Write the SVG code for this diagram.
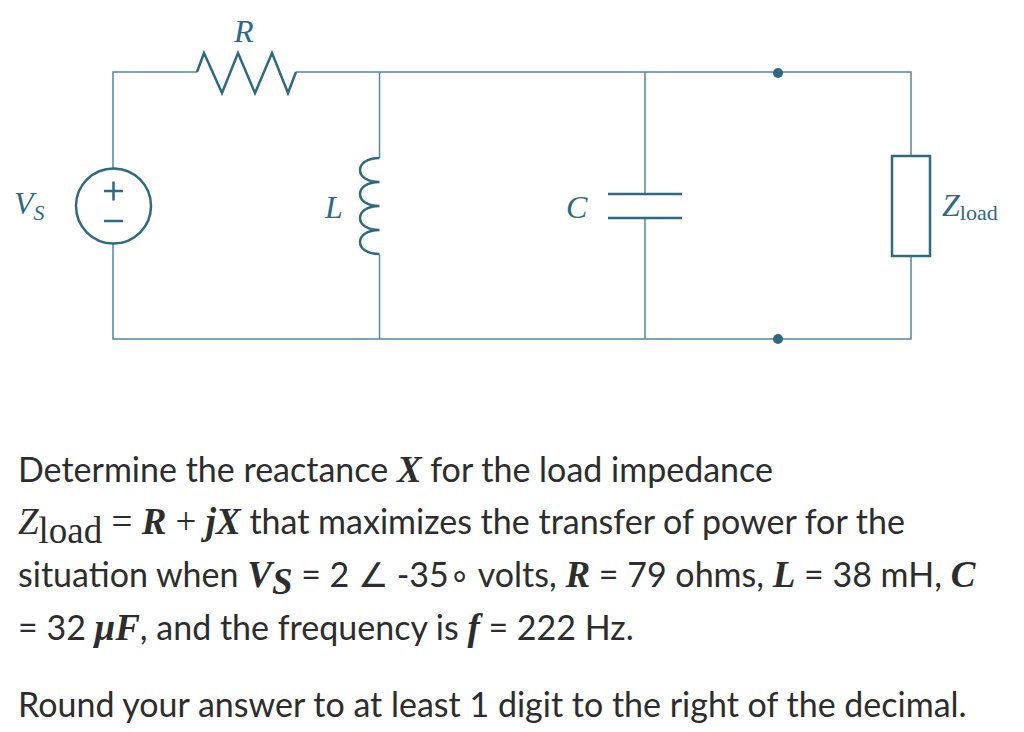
<svg xmlns="http://www.w3.org/2000/svg" width="1024" height="732" viewBox="0 0 1024 732">
<style>
.w{fill:none;stroke:#4f8a9e;stroke-width:1.5}
.c{fill:none;stroke:#2e6a80;stroke-width:2.5}
.lb{font-family:"Liberation Serif",serif;font-style:italic;font-size:32px;fill:#2e6a80}
.sub{font-family:"Liberation Serif",serif;font-size:22px;fill:#2e6a80}
.t{font-family:Lato,"Liberation Sans",sans-serif;font-size:34px;fill:#2d2d2d}
.m{font-family:"Liberation Serif",serif;font-style:italic;font-weight:bold;font-size:37px}
.mr{font-family:"Liberation Serif",serif;font-size:37px}
</style>
<rect width="1024" height="732" fill="#fff"/>
<g id="wires">
<path class="w" d="M113,168 V72 H197 M296,72 H911 V156 M911,256 V339 H113 V244 M379.5,72 V158 M379.5,255 V339 M645,72 V194 M645,218 V339"/>
</g>
<g id="R"><path class="c" d="M197,72 L204,53 L222,93 L238,53 L255,93 L272,53 L288,93 L296,72"/><text class="lb" x="234" y="42">R</text></g>
<g id="Vs"><circle class="c" cx="113.5" cy="206" r="37.5"/><path class="c" d="M104,191 h19 M113.5,181.5 v19 M104,221 h19" stroke-width="1.8"/><text class="lb" x="14" y="214">V<tspan class="sub" font-style="italic" dy="6">S</tspan></text></g>
<g id="L"><path class="c" d="M379.5,158 c-26,0 -26,24 0,24 c-26,0 -26,24 0,24 c-26,0 -26,24 0,24 c-26,0 -26,24 0,24"/><text class="lb" x="325" y="218">L</text></g>
<g id="C"><path class="c" d="M608,194 H682 M608,218 H682"/><text class="lb" x="566" y="218">C</text></g>
<g id="load"><rect class="c" x="892" y="156" width="38" height="100"/><text class="lb" x="942" y="216">Z<tspan class="sub" font-style="normal" dy="4">load</tspan></text></g>
<g id="dots" fill="#2e6a80"><circle cx="778" cy="73" r="5"/><circle cx="778" cy="339" r="5"/></g>
<g id="text">
<text class="t" x="18" y="482">Determine the reactance <tspan class="m">X</tspan> for the load impedance</text>
<text class="t" x="18" y="534"><tspan class="mr" font-style="italic">Z</tspan><tspan class="mr" dy="9">load</tspan><tspan class="mr" dy="-9">  =  </tspan><tspan class="m">R</tspan><tspan class="mr"> + </tspan><tspan class="m">jX</tspan> that maximizes the transfer of power for the</text>
<text class="t" x="18" y="587">situation when <tspan class="m">V</tspan><tspan class="m" font-size="24" dy="7">S</tspan><tspan dy="-7"> = 2 ∠ -35∘ volts, </tspan><tspan class="m">R</tspan> = 79 ohms, <tspan class="m">L</tspan> = 38 mH, <tspan class="m">C</tspan></text>
<text class="t" x="18" y="640">= 32 <tspan class="m">μF</tspan>, and the frequency is <tspan class="m">f</tspan> = 222 Hz.</text>
<text class="t" x="18" y="717">Round your answer to at least 1 digit to the right of the decimal.</text>
</g>
</svg>
